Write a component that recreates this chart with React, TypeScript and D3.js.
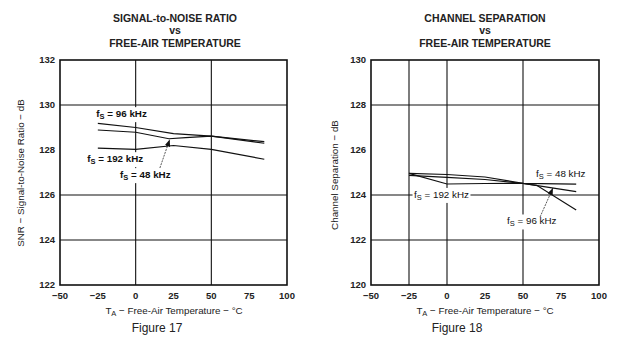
import React, { useEffect, useRef } from "react";
import * as d3 from "d3";

// ---- data ----
const xTicks = [-50, -25, 0, 25, 50, 75, 100];
const snrTicks = [122, 124, 126, 128, 130, 132];
const sepTicks = [120, 122, 124, 126, 128, 130];

const snrGridX = [0, 50];
const snrGridY = [124, 126, 130];
const sepGridX = [-25, 0, 50];
const sepGridY = [122, 124, 128];

const snr96T = [-25, 0, 25, 50, 85];
const snr96V = [129.18, 129.0, 128.73, 128.62, 128.3];
const snr48T = [-25, 0, 22, 33, 50, 85];
const snr48V = [128.89, 128.79, 128.5, 128.55, 128.62, 128.37];
const snr192T = [-25, 0, 25, 50, 85];
const snr192V = [128.08, 128.03, 128.2, 128.03, 127.59];

const sep48T = [-25, 0, 25, 50, 85];
const sep48V = [124.96, 124.91, 124.8, 124.52, 124.48];
const sep96T = [-25, 0, 25, 50, 59, 85];
const sep96V = [124.87, 124.78, 124.69, 124.51, 124.43, 123.33];
const sep192T = [-25, 0, 25, 50, 85];
const sep192V = [124.96, 124.49, 124.51, 124.52, 124.15];

type Lbl = { t: number; v: number; main: string; rest: string };
type Chart = {
  x0: number; x1: number; y0: number; y1: number;
  yDomain: [number, number]; yTicks: number[];
  gridX: number[]; gridY: number[];
  series: { t: number[]; v: number[] }[];
  labels: Lbl[];
  labelBold: boolean;
  arrow: { t0: number; v0: number; t1: number; v1: number };
  title: string; titleX: number;
  yTitle: string; yTitleX: number; yTitleY: number;
  fig: string; figX: number; axX: number;
};

const charts: Chart[] = [
  {
    x0: 60, x1: 287, y0: 60, y1: 285, yDomain: [122, 132], yTicks: snrTicks,
    gridX: snrGridX, gridY: snrGridY,
    series: [{ t: snr96T, v: snr96V }, { t: snr48T, v: snr48V }, { t: snr192T, v: snr192V }],
    labels: [
      { t: -26, v: 129.46, main: "f", rest: " = 96 kHz" },
      { t: -32, v: 127.46, main: "f", rest: " = 192 kHz" },
      { t: -10.3, v: 126.75, main: "f", rest: " = 48 kHz" },
    ],
    labelBold: true,
    arrow: { t0: 16, v0: 127.2, t1: 22.5, v1: 128.47 },
    title: "SIGNAL-to-NOISE RATIO", titleX: 175,
    yTitle: "SNR \u2212 Signal-to-Noise Ratio \u2212 dB", yTitleX: 20, yTitleY: 173,
    fig: "Figure 17", figX: 157, axX: 174,
  },
  {
    x0: 371, x1: 599, y0: 60, y1: 285, yDomain: [120, 130], yTicks: sepTicks,
    gridX: sepGridX, gridY: sepGridY,
    series: [{ t: sep48T, v: sep48V }, { t: sep96T, v: sep96V }, { t: sep192T, v: sep192V }],
    labels: [
      { t: -21.7, v: 123.87, main: "f", rest: " = 192 kHz" },
      { t: 58.6, v: 124.8, main: "f", rest: " = 48 kHz" },
      { t: 39.5, v: 122.69, main: "f", rest: " = 96 kHz" },
    ],
    labelBold: false,
    arrow: { t0: 61.2, v0: 123.02, t1: 69.7, v1: 124.31 },
    title: "CHANNEL SEPARATION", titleX: 485,
    yTitle: "Channel Separation \u2212 dB", yTitleX: 334, yTitleY: 175,
    fig: "Figure 18", figX: 457, axX: 485,
  },
];

const FONT = "'Liberation Sans', Arial, Helvetica, sans-serif";

export default function App() {
  const ref = useRef<SVGSVGElement>(null);
  useEffect(() => {
    const svg = d3.select(ref.current!);
    svg.selectAll("*").remove();
    svg.append("rect").attr("width", 620).attr("height", 349).attr("fill", "#fff");
    const defs = svg.append("defs");
    defs.append("marker").attr("id", "ah").attr("viewBox", "0 0 10 10")
      .attr("refX", 10).attr("refY", 5).attr("markerWidth", 7).attr("markerHeight", 7)
      .attr("markerUnits", "userSpaceOnUse").attr("orient", "auto")
      .append("path").attr("d", "M0,1 L10,5 L0,9 Z").attr("fill", "#111");

    charts.forEach((c) => {
      const x = d3.scaleLinear().domain([-50, 100]).range([c.x0, c.x1]);
      const y = d3.scaleLinear().domain(c.yDomain).range([c.y1, c.y0]);
      const g = svg.append("g").attr("font-family", FONT).attr("fill", "#111");

      // grid
      c.gridX.forEach((t) => g.append("line").attr("x1", x(t)).attr("x2", x(t))
        .attr("y1", c.y0).attr("y2", c.y1).attr("stroke", "#111").attr("stroke-width", 1.1));
      c.gridY.forEach((v) => g.append("line").attr("x1", c.x0).attr("x2", c.x1)
        .attr("y1", y(v)).attr("y2", y(v)).attr("stroke", "#111").attr("stroke-width", 1.1));

      // curves
      const line = d3.line<number>().x((_, i) => 0).y(() => 0);
      c.series.forEach((s) => {
        const pts = s.t.map((t, i) => [x(t), y(s.v[i])] as [number, number]);
        g.append("path").attr("d", d3.line()(pts)!).attr("fill", "none")
          .attr("stroke", "#111").attr("stroke-width", 1.2);
      });
      void line;

      // labels with white backgrounds
      c.labels.forEach((l) => {
        const lg = g.append("g");
        const txt = lg.append("text").attr("x", x(l.t)).attr("y", y(l.v))
          .attr("font-size", 9.8).attr("font-weight", c.labelBold ? "bold" : "normal");
        txt.append("tspan").text(l.main);
        txt.append("tspan").attr("font-size", 7.5).attr("dy", 2).text("S");
        txt.append("tspan").attr("dy", -2).text(l.rest);
        const bb = (txt.node() as SVGTextElement).getBBox();
        lg.insert("rect", "text").attr("x", bb.x - 1.5).attr("y", bb.y - 1)
          .attr("width", bb.width + 3).attr("height", bb.height + 2).attr("fill", "#fff");
      });

      // arrow
      g.append("line").attr("x1", x(c.arrow.t0)).attr("y1", y(c.arrow.v0))
        .attr("x2", x(c.arrow.t1)).attr("y2", y(c.arrow.v1))
        .attr("stroke", "#111").attr("stroke-width", 0.7).attr("stroke-dasharray", "2,1")
        .attr("marker-end", "url(#ah)");

      // border
      g.append("rect").attr("x", c.x0).attr("y", c.y0).attr("width", c.x1 - c.x0)
        .attr("height", c.y1 - c.y0).attr("fill", "none").attr("stroke", "#111").attr("stroke-width", 1.6);

      // y ticks
      c.yTicks.forEach((v) => g.append("text").attr("x", c.x0 - 5).attr("y", y(v))
        .attr("dy", "0.35em").attr("text-anchor", "end").attr("font-size", 9.5)
        .attr("font-weight", "bold").attr("fill", "#222").text(String(v)));
      // x ticks
      xTicks.forEach((t) => g.append("text").attr("x", x(t)).attr("y", 299)
        .attr("text-anchor", "middle").attr("font-size", 9.5).attr("font-weight", "bold")
        .attr("fill", "#222").text(t < 0 ? "\u2212" + Math.abs(t) : String(t)));

      // x axis title
      const ax = g.append("text").attr("x", c.axX).attr("y", 313.5).attr("text-anchor", "middle")
        .attr("font-size", 9.8).attr("fill", "#222");
      ax.append("tspan").text("T");
      ax.append("tspan").attr("font-size", 7.5).attr("dy", 2).text("A");
      ax.append("tspan").attr("dy", -2).text(" \u2212 Free-Air Temperature \u2212 \u00B0C");

      // y axis title
      g.append("text").attr("transform", `translate(${c.yTitleX + 3.5},${c.yTitleY}) rotate(-90)`)
        .attr("text-anchor", "middle").attr("font-size", 9.8).attr("fill", "#222").text(c.yTitle);

      // titles
      [c.title, "vs", "FREE-AIR TEMPERATURE"].forEach((s, i) =>
        g.append("text").attr("x", c.titleX).attr("y", [21.5, 33.5, 46.5][i])
          .attr("text-anchor", "middle").attr("font-size", 10.5).attr("font-weight", "bold")
          .attr("fill", "#222").text(s));

      // figure label
      g.append("text").attr("x", c.figX).attr("y", 332).attr("text-anchor", "middle")
        .attr("font-size", 12).attr("fill", "#222").text(c.fig);
    });
  }, []);
  return (
    <svg ref={ref} width={620} height={349}
      style={{ position: "absolute", left: 0, top: 0, display: "block" }} />
  );
}
